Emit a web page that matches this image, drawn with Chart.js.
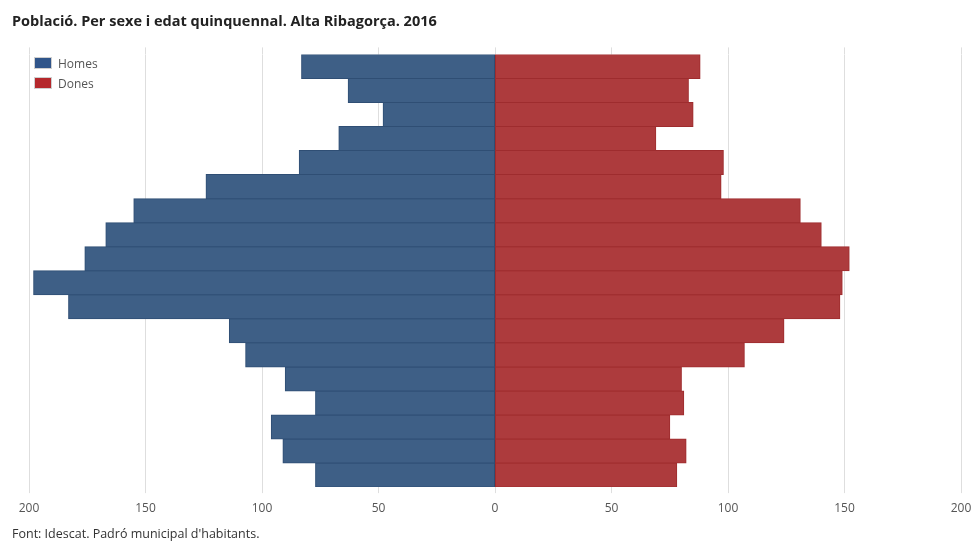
<!DOCTYPE html>
<html>
<head>
<meta charset="utf-8">
<script src="https://cdn.jsdelivr.net/npm/chart.js@4/dist/chart.umd.min.js"></script>
<style>
  html, body { margin: 0; padding: 0; background: #fff; }
  #wrap { position: relative; width: 972px; height: 541px; }
  #legend { position: absolute; left: 34px; top: 53px; font-family: "Open Sans", sans-serif; font-size: 12px; color: #555; }
  .item { display: flex; align-items: center; height: 20px; }
  .box { width: 16px; height: 10px; border: 1px solid #cfcfcf; margin-right: 6px; }
</style>
</head>
<body>
<div id="wrap">
  <canvas id="c" width="972" height="541"></canvas>
  <div id="legend"></div>
</div>
<script>
// Age groups, bottom (youngest) to top (oldest)
const categories = ["0-4","5-9","10-14","15-19","20-24","25-29","30-34","35-39","40-44","45-49","50-54","55-59","60-64","65-69","70-74","75-79","80-84","85 i més"];
const homes = [77, 91, 96, 77, 90, 107, 114, 183, 198, 176, 167, 155, 124, 84, 67, 48, 63, 83];
const dones = [78, 82, 75, 81, 80, 107, 124, 148, 149, 152, 140, 131, 97, 98, 69, 85, 83, 88];
const seriesNames = ["Homes", "Dones"];
const xTicks = [-200, -150, -100, -50, 0, 50, 100, 150, 200];

const titleText = "Població. Per sexe i edat quinquennal. Alta Ribagorça. 2016";
const sourceText = "Font: Idescat. Padró municipal d'habitants.";

const fillColors = ["#3e5f86", "#ad3b3d"];
const borderColors = ["#2f4e74", "#9e2c2e"];
const legendColors = ["#30558a", "#b5282c"];

const legend = document.getElementById('legend');
seriesNames.forEach((n, i) => {
  const d = document.createElement('div'); d.className = 'item';
  const b = document.createElement('span'); b.className = 'box'; b.style.background = legendColors[i];
  const t = document.createElement('span'); t.textContent = n;
  d.appendChild(b); d.appendChild(t); legend.appendChild(d);
});

const tickFont = { family: "'Open Sans', sans-serif", size: 12 };
const gridColor = "#dedede";

new Chart(document.getElementById('c'), {
  type: 'bar',
  data: {
    labels: categories,
    datasets: [
      { label: seriesNames[0], order: 1, data: homes.map(v => -v), backgroundColor: fillColors[0], borderColor: borderColors[0], borderWidth: 1, borderSkipped: false, inflateAmount: 0.5, barPercentage: 1, categoryPercentage: 1 },
      { label: seriesNames[1], order: 0, data: dones, backgroundColor: fillColors[1], borderColor: borderColors[1], borderWidth: 1, borderSkipped: false, inflateAmount: 0.5, barPercentage: 1, categoryPercentage: 1 }
    ]
  },
  options: {
    indexAxis: 'y',
    responsive: false,
    animation: false,
    layout: { padding: { left: 12, right: 11, top: 0, bottom: 0 } },
    plugins: {
      legend: { display: false },
      tooltip: { enabled: false },
      title: {
        display: true, text: titleText, align: 'start',
        color: '#222', font: { family: "'Open Sans', sans-serif", size: 14.5, weight: 'bold' },
        padding: { top: 13, bottom: 17 }
      },
      subtitle: {
        display: true, text: sourceText, align: 'start', position: 'bottom',
        color: '#333', font: { family: "'Open Sans', sans-serif", size: 12.5, lineHeight: 1 },
        padding: { top: 5, bottom: 0 }
      }
    },
    scales: {
      y: {
        stacked: true, reverse: true,
        ticks: { display: false },
        grid: { display: false },
        border: { display: false },
        afterFit: s => { s.width = 17; }
      },
      x: {
        stacked: true, min: -200, max: 200,
        afterBuildTicks: s => { s.ticks = xTicks.map(v => ({ value: v })); },
        afterFit: s => { s.paddingLeft = 0; s.paddingRight = 0; },
        ticks: { color: '#555', font: tickFont, padding: 8, callback: v => Math.abs(v) },
        grid: { color: gridColor, tickLength: 6, tickColor: gridColor },
        border: { display: false }
      },
      x2: {
        position: 'top', min: -200, max: 200,
        afterBuildTicks: s => { s.ticks = xTicks.map(v => ({ value: v })); },
        afterFit: s => { s.paddingLeft = 0; s.paddingRight = 0; },
        ticks: { display: false },
        grid: { color: gridColor, tickLength: 7, tickColor: gridColor, drawOnChartArea: false },
        border: { display: false }
      }
    }
  }
});
</script>
</body>
</html>
